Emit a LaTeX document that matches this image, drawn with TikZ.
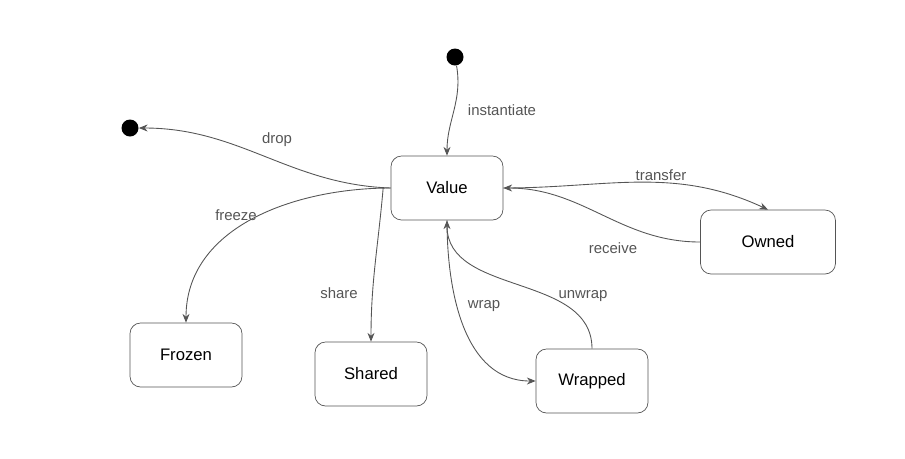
\documentclass[tikz,border=0pt]{standalone}
\usepackage{fontspec}
\setmainfont{Liberation Sans}
\usepackage{tikz}
\usetikzlibrary{arrows.meta}
\definecolor{linegray}{HTML}{555555}
\definecolor{labelgray}{HTML}{555555}
\tikzstyle{state} = [draw=linegray, rounded corners=6pt, minimum width=2.24cm, minimum height=1.28cm, inner sep=0pt, font=\fontsize{9.5}{11}\selectfont]
\tikzstyle{dot} = [circle, fill=black, minimum size=0.34cm, inner sep=0pt]
\tikzstyle{trans} = [draw=linegray, line width=0.5pt, -{Stealth[length=5pt,width=4pt]}]
\tikzstyle{lbl} = [text=labelgray, font=\fontsize{8.5}{10}\selectfont]

\begin{document}
\begin{tikzpicture}[x=0.02cm, y=-0.02cm]
    \useasboundingbox (0,0) rectangle (905,458);
    \node[dot] (start) at (455,57) {};
    \node[dot] (stop) at (130,128) {};
    \node[state] (value) at (447,188) {Value};
    \node[state, minimum width=2.7cm] (owned) at (768,242) {Owned};
    \node[state] (frozen) at (186,355) {Frozen};
    \node[state] (shared) at (371,374) {Shared};
    \node[state] (wrapped) at (592,381) {Wrapped};
    \draw[trans] (start) to[out=-80,in=90] (value.north);
    \draw[trans] (value.west) to[out=178,in=0] (stop);
    \draw[trans] (value.west) to[out=180,in=90] (frozen.north);
    \draw[trans] ([xshift=-0.15cm]value.west) to[out=-95,in=90] (shared.north);
    \draw[trans] (value.south) to[out=-90,in=180] (wrapped.west);
    \draw[trans] (wrapped.north) to[out=90,in=-90] (value.south);
    \draw[trans] (value.east) to[out=0,in=155] (owned.north);
    \draw[trans] (owned.west) to[out=180,in=0] (value.east);
    \node[lbl] (linst) at (502,110) {instantiate};
    \node[lbl] (ldrop) at (277,140) {drop};
    \node[lbl] (lfreeze) at (236,215) {freeze};
    \node[lbl] (lshare) at (339,293) {share};
    \node[lbl] (lwrap) at (484,306) {wrap};
    \node[lbl] (lunwrap) at (583,296) {unwrap};
    \node[lbl] (ltransfer) at (661,175) {transfer};
    \node[lbl] (lreceive) at (613,248) {receive};
\end{tikzpicture}
\end{document}
